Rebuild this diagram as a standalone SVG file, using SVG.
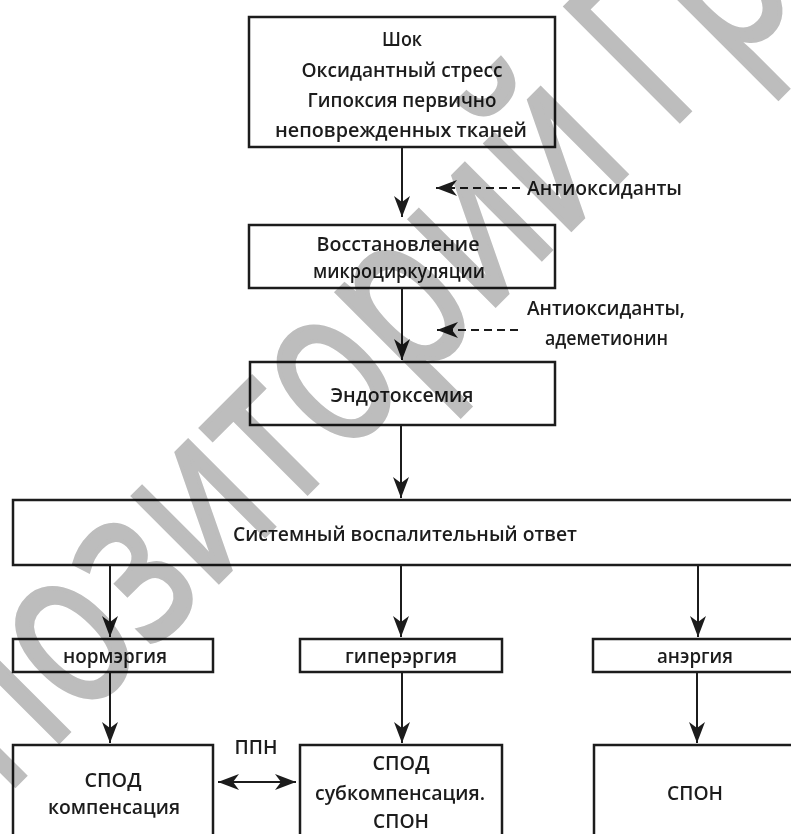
<svg xmlns="http://www.w3.org/2000/svg" width="791" height="834" viewBox="0 0 791 834">
<style>
.box{fill:none;stroke:#1c1c1c;stroke-width:2.5}
.ln{fill:none;stroke:#1c1c1c;stroke-width:2}
.dash{fill:none;stroke:#1c1c1c;stroke-width:2;stroke-dasharray:8 5}
text{font-family:"Open Sans","Noto Sans","DejaVu Sans",sans-serif;font-weight:600;font-size:19.5px;fill:#1c1c1c}
.c{text-anchor:middle}
.wm{font-family:"Open Sans","DejaVu Sans",sans-serif;font-weight:400;font-size:225px;fill:#bdbdbd;stroke:#bdbdbd;stroke-width:5;mix-blend-mode:multiply}
</style>
<defs>
<marker id="ah" markerUnits="userSpaceOnUse" markerWidth="24" markerHeight="18" viewBox="-22 -9 24 18" refX="0" refY="0" orient="auto-start-reverse">
<path d="M0,0 L-21,-8 L-15,0 L-21,8 Z" fill="#1c1c1c"/>
</marker>
</defs>
<rect width="791" height="834" fill="#fff"/>
<g id="n1"><rect class="box" x="249" y="17" width="306" height="130"/>
<text class="c" x="402" y="46" textLength="40" lengthAdjust="spacingAndGlyphs">Шок</text>
<text class="c" x="402" y="77" textLength="201" lengthAdjust="spacingAndGlyphs">Оксидантный стресс</text>
<text class="c" x="402" y="107" textLength="189" lengthAdjust="spacingAndGlyphs">Гипоксия первично</text>
<text class="c" x="401" y="137" textLength="252" lengthAdjust="spacingAndGlyphs">неповрежденных тканей</text></g>
<g id="n2"><rect class="box" x="249" y="225" width="306" height="63"/>
<text class="c" x="398" y="251" textLength="163" lengthAdjust="spacingAndGlyphs">Восстановление</text>
<text class="c" x="399" y="278" textLength="172" lengthAdjust="spacingAndGlyphs">микроциркуляции</text></g>
<g id="n3"><rect class="box" x="250" y="362" width="305" height="63"/>
<text class="c" x="402" y="402" textLength="143" lengthAdjust="spacingAndGlyphs">Эндотоксемия</text></g>
<g id="n4"><rect class="box" x="13" y="500" width="790" height="65"/>
<text class="c" x="405" y="541" textLength="344" lengthAdjust="spacingAndGlyphs">Системный воспалительный ответ</text></g>
<g id="n5"><rect class="box" x="13" y="639" width="200" height="33"/>
<text class="c" x="115" y="663" textLength="104" lengthAdjust="spacingAndGlyphs">нормэргия</text></g>
<g id="n6"><rect class="box" x="300" y="639" width="202" height="33"/>
<text class="c" x="401" y="663" textLength="112" lengthAdjust="spacingAndGlyphs">гиперэргия</text></g>
<g id="n7"><rect class="box" x="593" y="639" width="210" height="33"/>
<text class="c" x="695" y="663" textLength="76" lengthAdjust="spacingAndGlyphs">анэргия</text></g>
<g id="n8"><rect class="box" x="13" y="745" width="200" height="100"/>
<text class="c" x="113" y="787" textLength="57" lengthAdjust="spacingAndGlyphs">СПОД</text>
<text class="c" x="114" y="814" textLength="132" lengthAdjust="spacingAndGlyphs">компенсация</text></g>
<g id="n9"><rect class="box" x="300" y="745" width="202" height="100"/>
<text class="c" x="401" y="770" textLength="57" lengthAdjust="spacingAndGlyphs">СПОД</text>
<text class="c" x="400" y="800" textLength="170" lengthAdjust="spacingAndGlyphs">субкомпенсация.</text>
<text class="c" x="401" y="828" textLength="56" lengthAdjust="spacingAndGlyphs">СПОН</text></g>
<g id="n10"><rect class="box" x="594" y="745" width="210" height="100"/>
<text class="c" x="695" y="800" textLength="56" lengthAdjust="spacingAndGlyphs">СПОН</text></g>
<g id="labels">
<text x="527" y="195" textLength="155" lengthAdjust="spacingAndGlyphs">Антиоксиданты</text>
<text x="527" y="315" textLength="158" lengthAdjust="spacingAndGlyphs">Антиоксиданты,</text>
<text x="545" y="345" textLength="123" lengthAdjust="spacingAndGlyphs">адеметионин</text>
<text class="c" x="256" y="754" textLength="43" lengthAdjust="spacingAndGlyphs">ППН</text>
</g>
<g id="connectors">
<path class="ln" d="M402,147 V217" marker-end="url(#ah)"/>
<path class="ln" d="M402,288 V360" marker-end="url(#ah)"/>
<path class="ln" d="M401,425 V498" marker-end="url(#ah)"/>
<path class="ln" d="M110,565 V637" marker-end="url(#ah)"/>
<path class="ln" d="M401,565 V637" marker-end="url(#ah)"/>
<path class="ln" d="M698,565 V637" marker-end="url(#ah)"/>
<path class="ln" d="M110,672 V743" marker-end="url(#ah)"/>
<path class="ln" d="M402,672 V743" marker-end="url(#ah)"/>
<path class="ln" d="M697,672 V743" marker-end="url(#ah)"/>
<path class="dash" d="M520,188 H436" marker-end="url(#ah)"/>
<path class="dash" d="M518,330 H437" marker-end="url(#ah)"/>
<path class="ln" d="M218,782 H296" marker-start="url(#ah)" marker-end="url(#ah)"/>
</g>
<text class="wm" transform="translate(-134,934) rotate(-45) scale(0.75,1)">Репозиторий ГрГМУ</text>
</svg>
